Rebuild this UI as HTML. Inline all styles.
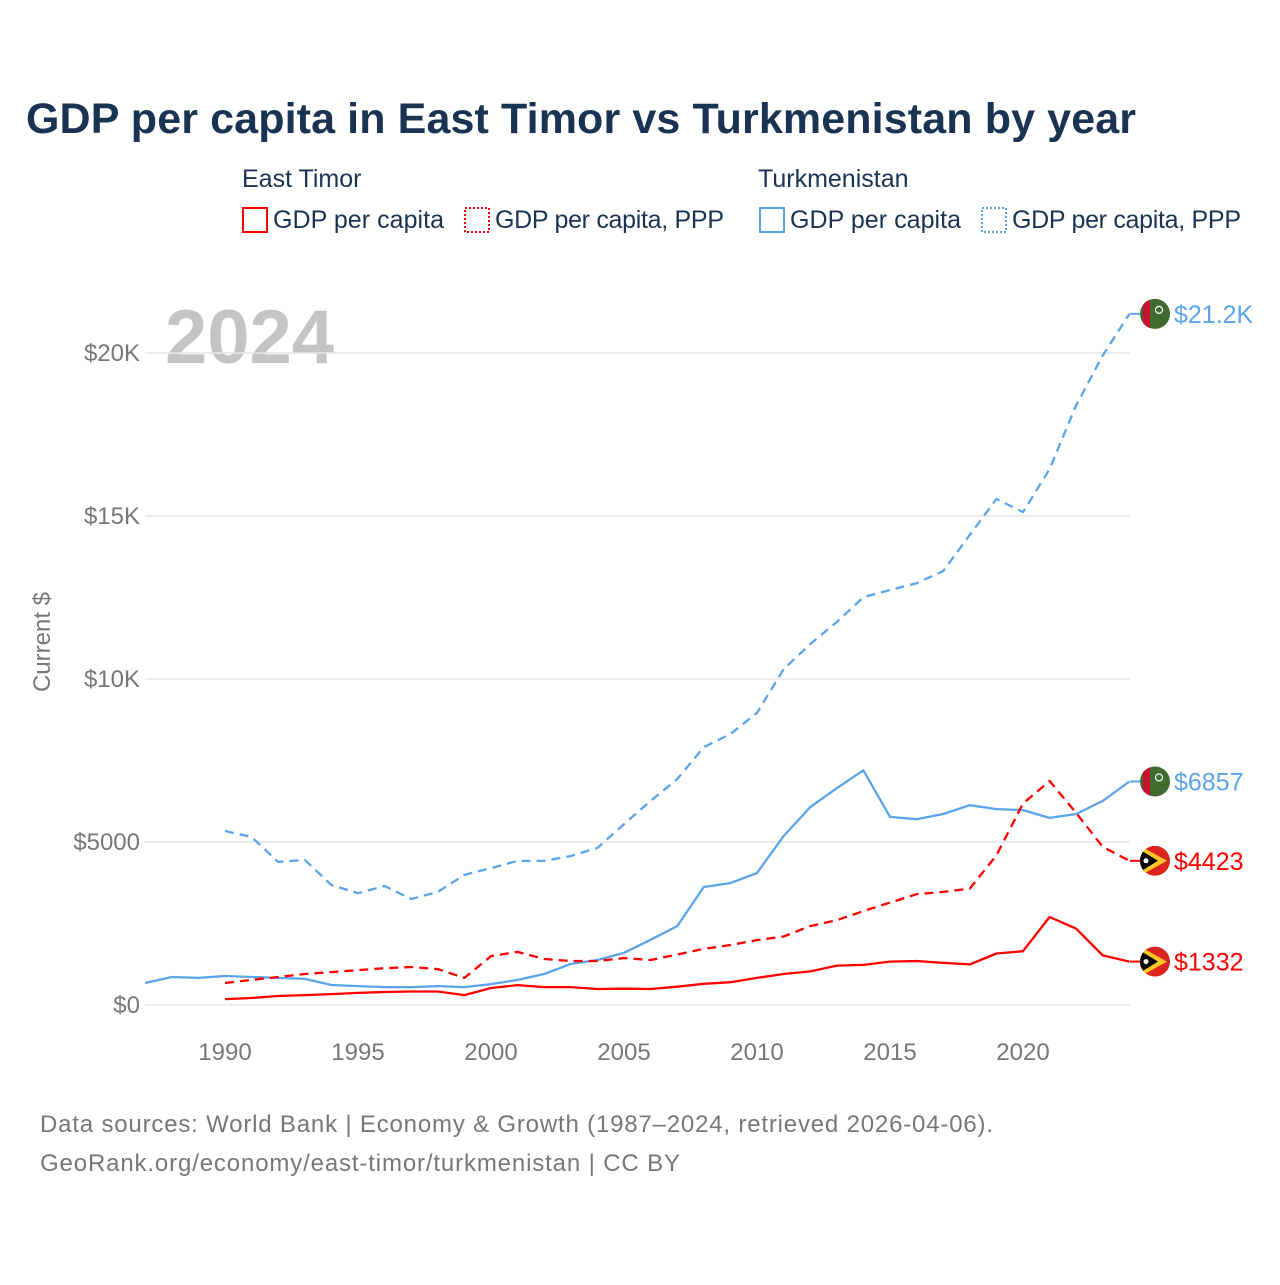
<!DOCTYPE html>
<html><head><meta charset="utf-8"><style>
body{margin:0;background:#fff;width:1280px;height:1280px;overflow:hidden;font-family:"Liberation Sans",sans-serif}
</style></head><body>
<svg id="chart" width="1280" height="1280" xmlns="http://www.w3.org/2000/svg">
<defs id="defs"></defs>
<text x="26" y="133" font-size="43" font-weight="bold" fill="#1a3352" textLength="1110">GDP per capita in East Timor vs Turkmenistan by year</text>
<g font-size="25" fill="#1a3352">
<text x="242" y="187">East Timor</text>
<text x="758" y="187">Turkmenistan</text>
<g><rect x="243" y="208" width="24" height="24" fill="none" stroke="#ff0000" stroke-width="2"/><text x="273" y="228" textLength="171">GDP per capita</text></g>
<g><rect x="465" y="208" width="24" height="24" fill="none" stroke="#ff0000" stroke-width="2" stroke-dasharray="2,2"/><text x="495" y="228" textLength="229">GDP per capita, PPP</text></g>
<g><rect x="760" y="208" width="24" height="24" fill="none" stroke="#5ba4ea" stroke-width="2"/><text x="790" y="228" textLength="171">GDP per capita</text></g>
<g><rect x="982" y="208" width="24" height="24" fill="none" stroke="#5ba4ea" stroke-width="2" stroke-dasharray="2,2"/><text x="1012" y="228" textLength="229">GDP per capita, PPP</text></g>
</g>
<text x="165" y="363" font-size="76" font-weight="bold" fill="#c4c4c4">2024</text>
<text transform="translate(50,642) rotate(-90)" text-anchor="middle" font-size="24" fill="#777">Current $</text>
<g id="grid"></g><g id="series"></g><g id="ends"></g>
<text x="40" y="1132" font-size="24" fill="#777" textLength="953">Data sources: World Bank | Economy &amp; Growth (1987–2024, retrieved 2026-04-06).</text>
<text x="40" y="1171" font-size="24" fill="#777" textLength="640">GeoRank.org/economy/east-timor/turkmenistan | CC BY</text>
</svg>
<script>
const years=[];for(let y=1987;y<=2024;y++)years.push(y);
const yTicks=[0,5000,10000,15000,20000];
const yTickLabels=["$0","$5000","$10K","$15K","$20K"];
const xTicks=[1990,1995,2000,2005,2010,2015,2020];
const tmGdp=[675,860,830,890,860,830,800,615,580,550,550,580,550,640,770,950,1260,1380,1600,2000,2420,3620,3740,4050,5180,6070,6650,7200,5770,5700,5860,6130,6010,5980,5740,5860,6260,6857];
const tmPpp=[null,null,null,5340,5150,4390,4450,3680,3430,3650,3250,3470,3990,4200,4420,4420,4570,4820,5550,6260,6930,7910,8310,8960,10300,11070,11750,12510,12730,12940,13310,14420,15520,15120,16440,18400,19930,21200];
const etGdp=[null,null,null,180,215,275,305,335,370,400,415,415,305,520,610,550,550,490,500,490,560,650,700,830,950,1030,1210,1230,1330,1350,1290,1245,1580,1650,2700,2340,1520,1332];
const etPpp=[null,null,null,675,770,860,950,1010,1070,1130,1165,1100,830,1500,1630,1410,1350,1350,1440,1380,1550,1720,1840,1990,2100,2420,2600,2880,3140,3400,3470,3570,4590,6180,6870,5890,4850,4423];
const endLabels=["$21.2K","$6857","$4423","$1332"];
const NS="http://www.w3.org/2000/svg";
const X=y=>145.2+(y-1987)*26.6;
const Y=v=>1005-v*652/20000;
function el(t,a,p){const e=document.createElementNS(NS,t);for(const k in a)e.setAttribute(k,a[k]);p.appendChild(e);return e;}
const grid=document.getElementById('grid');
yTicks.forEach((t,i)=>{
 const l=el('line',{x1:145,x2:1130,y1:Y(t),y2:Y(t),stroke:'#e6e6e6','stroke-width':1.5},grid);
 
 
 const tx=el('text',{x:140,y:Y(t)+8,'text-anchor':'end','font-size':24,fill:'#777'},grid);tx.textContent=yTickLabels[i];
 
 
});
xTicks.forEach(t=>{
 const tx=el('text',{x:X(t),y:1060,'text-anchor':'middle','font-size':24,fill:'#777'},grid);tx.textContent=t;
 
 
});
const sg=document.getElementById('series');
function line(data,color,dash,name){
 let d='';data.forEach((v,i)=>{if(v==null)return;d+=(d?'L':'M')+X(years[i]).toFixed(1)+','+Y(v).toFixed(1);});
 const p=el('path',{d:d,fill:'none',stroke:color,'stroke-width':2.3,'stroke-dasharray':dash||'none','stroke-linejoin':'round'},sg);
 
 
}
line(tmPpp,'#5ba4ea','9,6','line-turkmenistan-ppp');
line(tmGdp,'#5ba4ea','','line-turkmenistan-gdp');
line(etPpp,'#ff0000','9,6','line-east-timor-ppp');
line(etGdp,'#ff0000','','line-east-timor-gdp');
const eg=document.getElementById('ends');
const defs=document.getElementById('defs');
const ends=[[tmPpp,'#5ba4ea','tm'],[tmGdp,'#5ba4ea','tm'],[etPpp,'#ff0000','et'],[etGdp,'#ff0000','et']];
ends.forEach((e,i)=>{
 const v=e[0][e[0].length-1],y=Y(v),x=1155;
 el('line',{x1:1130,x2:1140,y1:y,y2:y,stroke:e[1],'stroke-width':2},eg);
 const cp=el('clipPath',{id:'clip'+i},defs);
 el('circle',{cx:x,cy:y,r:15},cp);
 const g=el('g',{'clip-path':'url(#clip'+i+')'},eg);
 
 
 if(e[2]==='tm'){el('rect',{x:x-15,y:y-15,width:30,height:30,fill:'#3f6b2f'},g);el('rect',{x:x-12,y:y-15,width:7,height:30,fill:'#c8102e'},g);el('circle',{cx:x+4,cy:y-4,r:3.5,fill:'none',stroke:'#fff','stroke-width':1.2},g);}
 else{el('rect',{x:x-15,y:y-15,width:30,height:30,fill:'#dc241f'},g);el('path',{d:`M${x-15},${y-15}L${x+12},${y}L${x-15},${y+15}Z`,fill:'#ffc726'},g);el('path',{d:`M${x-15},${y-11}L${x+3},${y}L${x-15},${y+11}Z`,fill:'#000'},g);el('circle',{cx:x-9,cy:y,r:2.5,fill:'#fff'},g);}
 const t=el('text',{x:1174,y:y+9,'font-size':25,fill:e[1]},eg);t.textContent=endLabels[i];
 
 
});
</script>
</body></html>
